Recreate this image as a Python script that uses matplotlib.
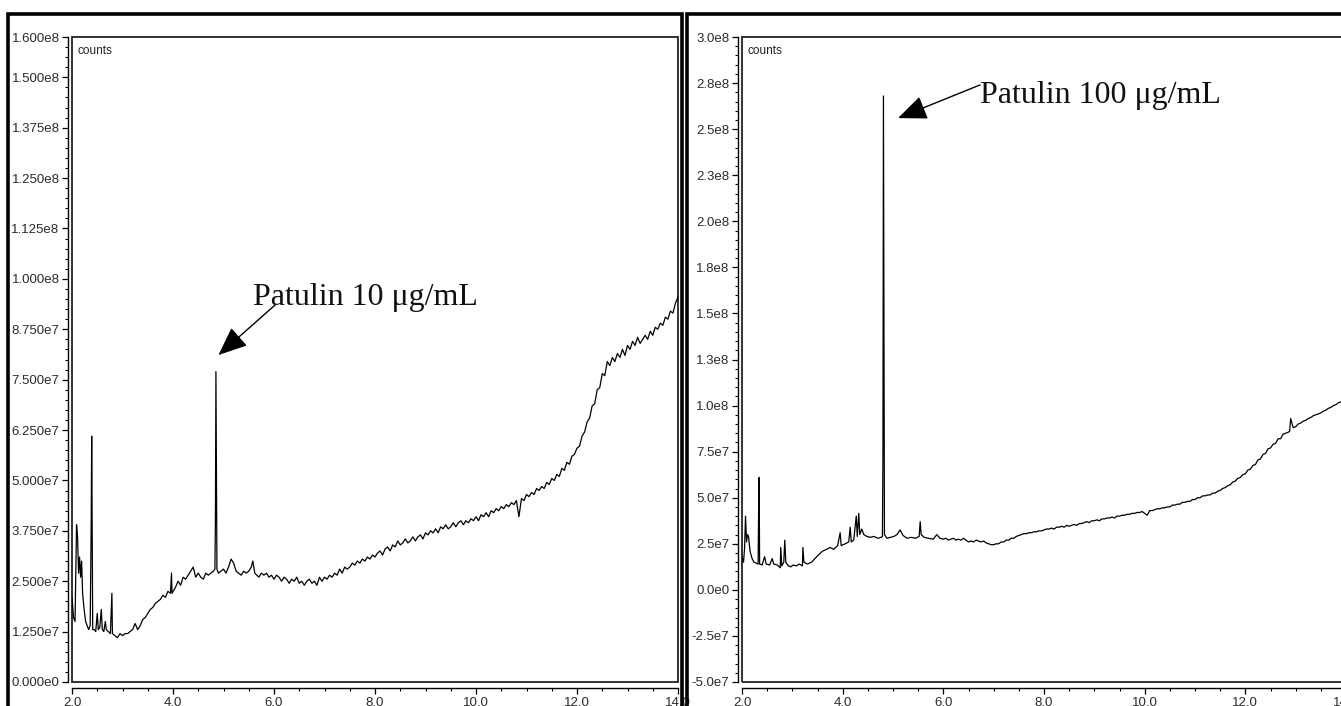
import matplotlib
matplotlib.use("Agg")
import matplotlib.pyplot as plt
from matplotlib.patches import Rectangle
from matplotlib.ticker import MultipleLocator, FixedLocator

W, H = 1341, 706
SCALE = 1e7  # trace values below are in units of 1e7 counts

# --- left chromatogram: patulin 10 ug/mL, (retention time, counts/1e7) ---
trace_10 = [
    (2.00, 2.1), (2.03, 1.6), (2.06, 1.5), (2.09, 3.9), (2.11, 3.6), (2.13, 2.7), (2.15, 3.1),
    (2.17, 2.6), (2.19, 3.0), (2.21, 2.2), (2.24, 1.8), (2.27, 1.5), (2.30, 1.4), (2.33, 1.3),
    (2.36, 1.4), (2.38, 3.9), (2.39, 6.1), (2.40, 3.9), (2.41, 1.3), (2.44, 1.3), (2.47, 1.25),
    (2.50, 1.7), (2.52, 1.3), (2.55, 1.35), (2.58, 1.8), (2.60, 1.3), (2.63, 1.25), (2.66, 1.5),
    (2.68, 1.3), (2.72, 1.25), (2.76, 1.2), (2.79, 2.2), (2.80, 1.2), (2.85, 1.15), (2.90, 1.1),
    (2.95, 1.2), (3.00, 1.15), (3.05, 1.2), (3.10, 1.2), (3.15, 1.25), (3.20, 1.3), (3.25, 1.45),
    (3.30, 1.3), (3.35, 1.4), (3.40, 1.55), (3.45, 1.6), (3.50, 1.7), (3.55, 1.8), (3.60, 1.85),
    (3.65, 1.95), (3.70, 2.0), (3.75, 2.05), (3.80, 2.15), (3.85, 2.1), (3.90, 2.25), (3.95, 2.2),
    (3.97, 2.7), (3.98, 2.2), (4.05, 2.35), (4.10, 2.5), (4.15, 2.4), (4.20, 2.6), (4.25, 2.55),
    (4.30, 2.65), (4.35, 2.75), (4.40, 2.85), (4.45, 2.6), (4.50, 2.7), (4.55, 2.6), (4.60, 2.55),
    (4.65, 2.7), (4.70, 2.65), (4.75, 2.7), (4.80, 2.75), (4.83, 2.8), (4.84, 4.0), (4.85, 7.7),
    (4.86, 5.0), (4.87, 2.8), (4.90, 2.7), (4.95, 2.75), (5.00, 2.8), (5.05, 2.7), (5.10, 2.85),
    (5.15, 3.05), (5.20, 2.95), (5.25, 2.75), (5.30, 2.7), (5.35, 2.65), (5.40, 2.75), (5.45, 2.7),
    (5.50, 2.75), (5.55, 2.85), (5.58, 3.0), (5.62, 2.7), (5.70, 2.6), (5.75, 2.7), (5.80, 2.65),
    (5.85, 2.7), (5.90, 2.6), (5.95, 2.65),
    (6.00, 2.55), (6.05, 2.65), (6.10, 2.6), (6.15, 2.5), (6.20, 2.6), (6.25, 2.55), (6.30, 2.45),
    (6.35, 2.55), (6.40, 2.5), (6.45, 2.6), (6.50, 2.45), (6.55, 2.5), (6.60, 2.4), (6.65, 2.5),
    (6.70, 2.55), (6.75, 2.45), (6.80, 2.5), (6.85, 2.4), (6.90, 2.6), (6.95, 2.5), (7.00, 2.6),
    (7.05, 2.55), (7.10, 2.65), (7.15, 2.6), (7.20, 2.7), (7.25, 2.65), (7.30, 2.8), (7.35, 2.7),
    (7.40, 2.85), (7.45, 2.8), (7.50, 2.85), (7.55, 2.95), (7.60, 2.9), (7.65, 3.0), (7.70, 2.95),
    (7.75, 3.05), (7.80, 3.0), (7.85, 3.1), (7.90, 3.05), (7.95, 3.15), (8.00, 3.1), (8.05, 3.2),
    (8.10, 3.25), (8.15, 3.15), (8.20, 3.3), (8.25, 3.35), (8.30, 3.25), (8.35, 3.4), (8.40, 3.35),
    (8.45, 3.5), (8.50, 3.4), (8.55, 3.45), (8.60, 3.55), (8.65, 3.45), (8.70, 3.5), (8.75, 3.6),
    (8.80, 3.5), (8.85, 3.6), (8.90, 3.65), (8.95, 3.55), (9.00, 3.7), (9.05, 3.65), (9.10, 3.75),
    (9.15, 3.7), (9.20, 3.8), (9.25, 3.7), (9.30, 3.85), (9.35, 3.8), (9.40, 3.9), (9.45, 3.8),
    (9.50, 3.85), (9.55, 3.95), (9.60, 3.85), (9.65, 3.95), (9.70, 4.0), (9.75, 3.9), (9.80, 4.0),
    (9.85, 3.95), (9.90, 4.05), (9.95, 4.0), (10.00, 4.1), (10.05, 4.0), (10.10, 4.15),
    (10.15, 4.1), (10.20, 4.2), (10.25, 4.1), (10.30, 4.25), (10.35, 4.2), (10.40, 4.3),
    (10.45, 4.25), (10.50, 4.35), (10.55, 4.3), (10.60, 4.4), (10.65, 4.35), (10.70, 4.45),
    (10.75, 4.4), (10.80, 4.5), (10.85, 4.1), (10.90, 4.55), (10.95, 4.5), (11.00, 4.65),
    (11.05, 4.6), (11.10, 4.7), (11.15, 4.65), (11.20, 4.8), (11.25, 4.75), (11.30, 4.85),
    (11.35, 4.8), (11.40, 4.95), (11.45, 4.9), (11.50, 5.05), (11.55, 5.0), (11.60, 5.15),
    (11.65, 5.1), (11.70, 5.3), (11.75, 5.25), (11.80, 5.45), (11.85, 5.4), (11.90, 5.6),
    (11.95, 5.65), (12.00, 5.8), (12.05, 5.85), (12.10, 6.1), (12.15, 6.2), (12.20, 6.45),
    (12.25, 6.55), (12.30, 6.85), (12.35, 6.9), (12.40, 7.25), (12.45, 7.3), (12.50, 7.65),
    (12.55, 7.6), (12.60, 7.95), (12.65, 7.85), (12.70, 8.05), (12.75, 7.95), (12.80, 8.15),
    (12.85, 8.05), (12.90, 8.25), (12.95, 8.1), (13.00, 8.35), (13.05, 8.25), (13.10, 8.45),
    (13.15, 8.35), (13.20, 8.55), (13.25, 8.4), (13.30, 8.5), (13.35, 8.6), (13.40, 8.5),
    (13.45, 8.7), (13.50, 8.6), (13.55, 8.8), (13.60, 8.75), (13.65, 8.9), (13.70, 8.85),
    (13.75, 9.05), (13.80, 9.0), (13.85, 9.2), (13.90, 9.15), (13.95, 9.4), (14.00, 9.55),
    (14.05, 9.7),
]

# --- right chromatogram: patulin 100 ug/mL ---
trace_100 = [
    (2.00, 1.8), (2.03, 1.5), (2.05, 2.2), (2.07, 4.0), (2.09, 2.6), (2.11, 3.0), (2.13, 2.9),
    (2.16, 2.1), (2.20, 1.7), (2.24, 1.5), (2.28, 1.45), (2.32, 1.4), (2.33, 4.2), (2.34, 6.1),
    (2.35, 1.4), (2.40, 1.35), (2.45, 1.8), (2.48, 1.4), (2.55, 1.35), (2.60, 1.7), (2.63, 1.4),
    (2.70, 1.35), (2.76, 1.2), (2.77, 2.3), (2.79, 1.3), (2.83, 1.5), (2.85, 2.7), (2.87, 1.5),
    (2.92, 1.3), (2.97, 1.25), (3.02, 1.35), (3.08, 1.3), (3.14, 1.4), (3.20, 1.3), (3.21, 2.3),
    (3.23, 1.5), (3.30, 1.4), (3.38, 1.5), (3.45, 1.7), (3.52, 1.9), (3.60, 2.1), (3.68, 2.2),
    (3.75, 2.3), (3.82, 2.2), (3.90, 2.4), (3.95, 3.1), (3.97, 2.4), (4.05, 2.5), (4.12, 2.6),
    (4.15, 3.4), (4.17, 2.6), (4.22, 2.7), (4.27, 4.0), (4.29, 2.9), (4.32, 4.15), (4.34, 3.0),
    (4.38, 3.3), (4.42, 3.0), (4.48, 2.9), (4.55, 2.85), (4.62, 2.9), (4.70, 2.8), (4.76, 2.85),
    (4.79, 2.9), (4.80, 7.2), (4.81, 26.8), (4.82, 15.4), (4.83, 3.0), (4.88, 2.8), (4.95, 2.85),
    (5.02, 2.9), (5.08, 3.0), (5.14, 3.25), (5.20, 2.95), (5.28, 2.8), (5.36, 2.85), (5.45, 2.8),
    (5.52, 2.9), (5.54, 3.7), (5.56, 3.0), (5.62, 2.85), (5.70, 2.8), (5.80, 2.75), (5.87, 3.0),
    (5.93, 2.8),
    (6.00, 2.75), (6.05, 2.8), (6.10, 2.7), (6.15, 2.75), (6.20, 2.8), (6.25, 2.7), (6.30, 2.75),
    (6.35, 2.7), (6.40, 2.8), (6.45, 2.7), (6.50, 2.6), (6.55, 2.65), (6.60, 2.6), (6.65, 2.7),
    (6.70, 2.65), (6.75, 2.6), (6.80, 2.65), (6.85, 2.55), (6.90, 2.5), (6.95, 2.45), (7.00, 2.45),
    (7.05, 2.5), (7.10, 2.5), (7.15, 2.6), (7.20, 2.6), (7.25, 2.7), (7.30, 2.7), (7.35, 2.8),
    (7.40, 2.8), (7.45, 2.9), (7.50, 2.95), (7.55, 3.0), (7.60, 3.05), (7.65, 3.05), (7.70, 3.1),
    (7.75, 3.1), (7.80, 3.15), (7.85, 3.15), (7.90, 3.2), (7.95, 3.2), (8.00, 3.25), (8.05, 3.3),
    (8.10, 3.3), (8.15, 3.35), (8.20, 3.3), (8.25, 3.4), (8.30, 3.4), (8.35, 3.45), (8.40, 3.4),
    (8.45, 3.5), (8.50, 3.45), (8.55, 3.5), (8.60, 3.55), (8.65, 3.5), (8.70, 3.6), (8.75, 3.6),
    (8.80, 3.65), (8.85, 3.7), (8.90, 3.65), (8.95, 3.75), (9.00, 3.75), (9.05, 3.8), (9.10, 3.75),
    (9.15, 3.85), (9.20, 3.85), (9.25, 3.9), (9.30, 3.9), (9.35, 3.95), (9.40, 3.9), (9.45, 4.0),
    (9.50, 4.0), (9.55, 4.05), (9.60, 4.05), (9.65, 4.1), (9.70, 4.1), (9.75, 4.15), (9.80, 4.15),
    (9.85, 4.2), (9.90, 4.2), (9.95, 4.25), (10.00, 4.15), (10.05, 4.05), (10.10, 4.3),
    (10.15, 4.3), (10.20, 4.35), (10.25, 4.4), (10.30, 4.4), (10.35, 4.45), (10.40, 4.45),
    (10.45, 4.5), (10.50, 4.5), (10.55, 4.6), (10.60, 4.6), (10.65, 4.65), (10.70, 4.65),
    (10.75, 4.75), (10.80, 4.75), (10.85, 4.8), (10.90, 4.8), (10.95, 4.9), (11.00, 4.9),
    (11.05, 5.0), (11.10, 5.0), (11.15, 5.1), (11.20, 5.1), (11.25, 5.15), (11.30, 5.15),
    (11.35, 5.25), (11.40, 5.25), (11.45, 5.35), (11.50, 5.4), (11.55, 5.5), (11.60, 5.55),
    (11.65, 5.65), (11.70, 5.7), (11.75, 5.85), (11.80, 5.9), (11.85, 6.05), (11.90, 6.1),
    (11.95, 6.25), (12.00, 6.3), (12.05, 6.5), (12.10, 6.55), (12.15, 6.75), (12.20, 6.8),
    (12.25, 7.05), (12.30, 7.1), (12.35, 7.35), (12.40, 7.4), (12.45, 7.65), (12.50, 7.7),
    (12.55, 7.9), (12.60, 7.95), (12.65, 8.2), (12.70, 8.2), (12.75, 8.45), (12.80, 8.5),
    (12.85, 8.55), (12.88, 8.6), (12.90, 9.3), (12.95, 8.8), (13.00, 8.85), (13.05, 9.0),
    (13.10, 9.05), (13.15, 9.15), (13.20, 9.2), (13.25, 9.3), (13.30, 9.35), (13.35, 9.45),
    (13.40, 9.5), (13.45, 9.55), (13.50, 9.6), (13.55, 9.7), (13.60, 9.75), (13.65, 9.85),
    (13.70, 9.9), (13.75, 10.0), (13.80, 10.05), (13.85, 10.15), (13.90, 10.2), (13.95, 10.3),
    (14.00, 10.35),
]

x_ticks = [2.0, 4.0, 6.0, 8.0, 10.0, 12.0, 14.0]
x_labels = ["2.0", "4.0", "6.0", "8.0", "10.0", "12.0", "14.0"]

y_ticks_10 = [0.0, 1.25e7, 2.5e7, 3.75e7, 5.0e7, 6.25e7, 7.5e7, 8.75e7, 1.0e8,
              1.125e8, 1.25e8, 1.375e8, 1.5e8, 1.6e8]
y_labels_10 = ["0.000e0", "1.250e7", "2.500e7", "3.750e7", "5.000e7", "6.250e7", "7.500e7",
               "8.750e7", "1.000e8", "1.125e8", "1.250e8", "1.375e8", "1.500e8", "1.600e8"]

y_ticks_100 = [-5.0e7, -2.5e7, 0.0, 2.5e7, 5.0e7, 7.5e7, 1.0e8, 1.25e8, 1.5e8, 1.75e8,
               2.0e8, 2.25e8, 2.5e8, 2.75e8, 3.0e8]
y_labels_100 = ["-5.0e7", "-2.5e7", "0.0e0", "2.5e7", "5.0e7", "7.5e7", "1.0e8", "1.3e8",
                "1.5e8", "1.8e8", "2.0e8", "2.3e8", "2.5e8", "2.8e8", "3.0e8"]

label_10 = "Patulin 10 \u03bcg/mL"
label_100 = "Patulin 100 \u03bcg/mL"

fig = plt.figure(figsize=(W / 100, H / 100), dpi=100)

# outer black frames around each panel
fig.add_artist(Rectangle((8 / W, -0.02), 674 / W, 1.02 - 14 / H, transform=fig.transFigure,
                         fill=False, lw=2.6, ec="black"))
fig.add_artist(Rectangle((687 / W, -0.02), 0.5, 1.02 - 14 / H, transform=fig.transFigure,
                         fill=False, lw=2.6, ec="black"))

ax1 = fig.add_axes([72 / W, 1 - 682 / H, 606 / W, 645 / H])
ax2 = fig.add_axes([742 / W, 1 - 682 / H, 604 / W, 645 / H])


def style(ax, yticks, ylabels, ymin, ymax, yminor):
    ax.set_xlim(2.0, 14.0)
    ax.set_ylim(ymin, ymax)
    for s in ["top", "right"]:
        ax.spines[s].set_visible(False)
    ax.spines["left"].set_position(("outward", 3))
    ax.spines["bottom"].set_position(("outward", 4.5))
    ax.spines["left"].set_linewidth(1.0)
    ax.spines["bottom"].set_linewidth(1.0)
    ax.add_patch(Rectangle((0, 0), 1, 1, transform=ax.transAxes, fill=False,
                           lw=1.3, ec="#222222", clip_on=False))
    ax.xaxis.set_major_locator(FixedLocator(x_ticks))
    ax.set_xticklabels(x_labels)
    ax.xaxis.set_minor_locator(MultipleLocator(0.5))
    ax.yaxis.set_major_locator(FixedLocator(yticks))
    ax.set_yticklabels(ylabels)
    ax.yaxis.set_minor_locator(MultipleLocator(yminor))
    ax.tick_params(which="major", direction="out", length=4, width=0.9,
                   labelsize=9.5, labelcolor="#2a2a2a", pad=2)
    ax.tick_params(which="minor", direction="out", length=2.5, width=0.8)
    for lab in ax.get_xticklabels() + ax.get_yticklabels():
        lab.set_fontfamily("Liberation Sans")
    ax.text(0.009, 0.988, "counts", transform=ax.transAxes, ha="left", va="top",
            fontsize=8.5, family="Liberation Sans", color="#222222")


style(ax1, y_ticks_10, y_labels_10, 0.0, 1.6e8, 2.5e6)
style(ax2, y_ticks_100, y_labels_100, -5.0e7, 3.0e8, 5.0e6)

t_10, c_10 = zip(*trace_10)
t_100, c_100 = zip(*trace_100)
ax1.plot(t_10, [c * SCALE for c in c_10], color="black", lw=0.9)
ax2.plot(t_100, [c * SCALE for c in c_100], color="black", lw=0.9)

arrow = dict(arrowstyle="-|>,head_length=1.0,head_width=0.42", color="black",
             lw=1.0, mutation_scale=18, shrinkA=0, shrinkB=0)

ax1.annotate("", xy=(4.90, 8.11e7), xytext=(6.02, 9.35e7), arrowprops=arrow)
ax1.text(5.58, 9.53e7, label_10, ha="left", va="center", fontsize=23,
         family="Liberation Serif", color="#111111")

ax2.annotate("", xy=(5.10, 2.56e8), xytext=(6.73, 2.74e8), arrowprops=arrow)
ax2.text(6.73, 2.685e8, label_100, ha="left", va="center", fontsize=23,
         family="Liberation Serif", color="#111111")

fig.savefig("out.png", dpi=100)
